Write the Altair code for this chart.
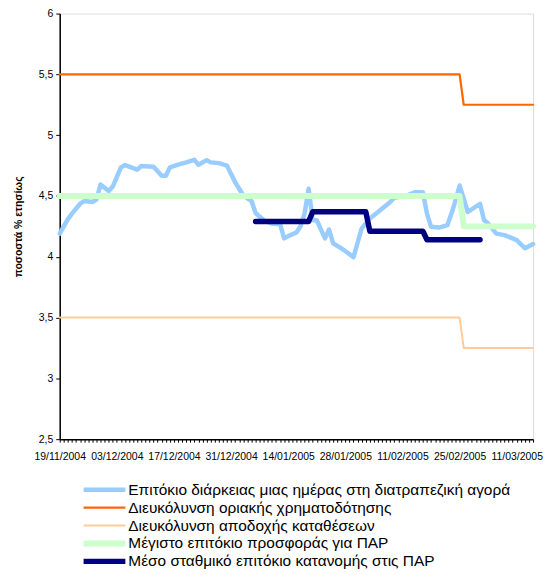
import altair as alt
import pandas as pd

# ---------------- data ----------------
series_names = [
    "Επιτόκιο διάρκειας μιας ημέρας στη διατραπεζική αγορά",
    "Διευκόλυνση οριακής χρηματοδότησης",
    "Διευκόλυνση αποδοχής καταθέσεων",
    "Μέγιστο επιτόκιο προσφοράς για ΠΑΡ",
    "Μέσο σταθμικό επιτόκιο κατανομής στις ΠΑΡ",
]
series_colors = ["#99CCFF", "#FF6600", "#FFCC99", "#CCFFCC", "#000080"]
series_widths = [4.5, 2.2, 2.0, 6.0, 5.5]

overnight_dates = [
    "2004-11-19", "2004-11-21", "2004-11-22", "2004-11-24", "2004-11-25", "2004-11-27",
    "2004-11-28", "2004-11-29", "2004-12-01", "2004-12-02", "2004-12-04", "2004-12-05",
    "2004-12-08", "2004-12-09", "2004-12-12", "2004-12-14", "2004-12-15", "2004-12-16",
    "2004-12-18", "2004-12-20", "2004-12-22", "2004-12-23", "2004-12-25", "2004-12-26",
    "2004-12-28", "2004-12-30", "2005-01-01", "2005-01-03", "2005-01-05", "2005-01-06",
    "2005-01-08", "2005-01-10", "2005-01-12", "2005-01-13", "2005-01-14", "2005-01-16",
    "2005-01-17", "2005-01-18", "2005-01-19", "2005-01-20", "2005-01-21", "2005-01-23",
    "2005-01-24", "2005-01-25", "2005-01-27", "2005-01-30", "2005-02-01", "2005-02-03",
    "2005-02-05", "2005-02-08", "2005-02-09", "2005-02-12", "2005-02-14", "2005-02-16",
    "2005-02-17", "2005-02-18", "2005-02-20", "2005-02-22", "2005-02-23", "2005-02-24",
    "2005-02-25", "2005-02-27", "2005-03-02", "2005-03-03", "2005-03-04", "2005-03-06",
    "2005-03-08", "2005-03-10", "2005-03-11", "2005-03-13", "2005-03-15",
]
overnight_values = [
    4.19, 4.31, 4.355, 4.436, 4.458, 4.45,
    4.47, 4.594, 4.54, 4.577, 4.735, 4.754,
    4.716, 4.746, 4.74, 4.667, 4.667, 4.735,
    4.757, 4.776, 4.797, 4.757, 4.795, 4.776,
    4.77, 4.749, 4.613, 4.504, 4.458, 4.36,
    4.30, 4.273, 4.268, 4.151, 4.17, 4.20,
    4.25, 4.355, 4.559, 4.30, 4.30, 4.151,
    4.224, 4.11, 4.07, 3.997, 4.233, 4.314,
    4.368, 4.45, 4.485, 4.504, 4.53, 4.53,
    4.355, 4.246, 4.24, 4.26, 4.355, 4.463,
    4.586, 4.368, 4.436, 4.30, 4.273, 4.19,
    4.178, 4.151, 4.137, 4.07, 4.105,
]

step_dates = ["2004-11-19", "2005-02-25", "2005-02-26", "2005-03-15"]
marginal_values = [5.5, 5.5, 5.25, 5.25]
deposit_values = [3.5, 3.5, 3.25, 3.25]
maxbid_values = [4.5, 4.5, 4.25, 4.25]

allot_dates = ["2005-01-06", "2005-01-19", "2005-01-20", "2005-02-02",
               "2005-02-03", "2005-02-16", "2005-02-17", "2005-03-02"]
allot_values = [4.29, 4.29, 4.37, 4.37, 4.21, 4.21, 4.14, 4.14]

y_ticks = [2.5, 3, 3.5, 4, 4.5, 5, 5.5, 6]
x_start = "2004-11-19"
x_end = "2005-03-15"

# ---------------- table ----------------
frames = []
for name, dates, vals in [
    (series_names[0], overnight_dates, overnight_values),
    (series_names[1], step_dates, marginal_values),
    (series_names[2], step_dates, deposit_values),
    (series_names[3], step_dates, maxbid_values),
    (series_names[4], allot_dates, allot_values),
]:
    frames.append(pd.DataFrame({"date": dates, "value": vals, "series": name}))
df = pd.concat(frames, ignore_index=True)

start_ms = int(pd.Timestamp(x_start, tz="UTC").timestamp() * 1000)
end_ms = int(pd.Timestamp(x_end, tz="UTC").timestamp() * 1000)
day_ticks = [int(t.timestamp() * 1000) for t in pd.date_range(x_start, x_end, freq="D", tz="UTC")]

FONT = "Liberation Sans"

x_enc = alt.X(
    "date:T",
    scale=alt.Scale(type="utc", domain=[start_ms, end_ms], nice=False),
    axis=alt.Axis(
        title=None,
        values=day_ticks,
        labelExpr=f"(round((datum.value - {start_ms})/86400000) % 14 == 0) ? utcFormat(datum.value, '%d/%m/%Y') : ''",
        labelOverlap=False,
        labelFlush=False,
        labelFont=FONT,
        labelFontSize=10.5,
        labelColor="#000000",
        labelPadding=9,
        tickSize=3,
        tickColor="#000000",
        domainColor="#000000",
        domainWidth=1.5,
        grid=False,
    ),
)
y_enc = alt.Y(
    "value:Q",
    scale=alt.Scale(domain=[2.5, 6], nice=False, zero=False),
    axis=alt.Axis(
        title="ποσοστά % ετησίως",
        values=y_ticks,
        labelExpr="replace(toString(datum.value), '.', ',')",
        labelFont=FONT,
        labelFontSize=10.5,
        labelColor="#000000",
        labelPadding=3,
        tickSize=4,
        tickColor="#000000",
        domainColor="#000000",
        domainWidth=1.5,
        grid=False,
        titleFont=FONT,
        titleFontSize=10.5,
        titleFontWeight="bold",
        titleColor="#000000",
        titlePadding=15,
    ),
)
legend = alt.Legend(
    title=None,
    orient="none",
    legendX=21,
    legendY=470,
    padding=0,
    symbolType="stroke",
    symbolSize=1764,
    labelFont=FONT,
    labelFontSize=15.5,
    labelColor="#000000",
    labelOffset=0,
    labelLimit=0,
    rowPadding=0,
    clipHeight=17.75,
)
color_enc = alt.Color(
    "series:N",
    scale=alt.Scale(domain=series_names, range=series_colors),
    legend=legend,
)
width_enc = alt.StrokeWidth(
    "series:N",
    scale=alt.Scale(type="ordinal", domain=series_names, range=series_widths),
    legend=legend,
)

layers = []
for name in series_names:
    layers.append(
        alt.Chart(df)
        .transform_filter(alt.datum.series == name)
        .mark_line(strokeCap="round", strokeJoin="round")
        .encode(x=x_enc, y=y_enc, color=color_enc, strokeWidth=width_enc)
    )

chart = (
    alt.layer(*layers)
    .properties(
        width=476,
        height=428,
        autosize=alt.AutoSizeParams(type="none"),
        padding={"left": 52, "top": 4, "right": 12, "bottom": 133},
    )
    .configure_view(stroke="#808080", strokeWidth=1)
    .configure(background="white")
)

chart.save("out.html", embed_options={"renderer": "svg", "actions": False})
